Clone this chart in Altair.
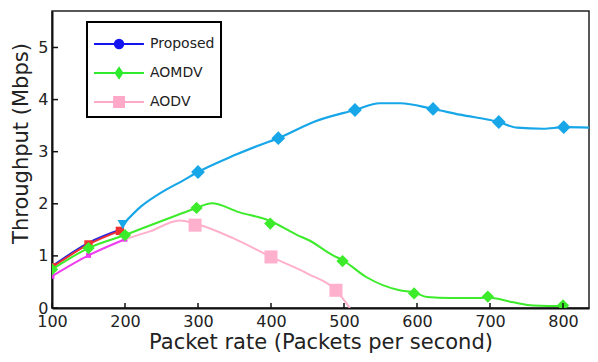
import altair as alt
import pandas as pd

# ---------------- data ----------------
series_names = ["Proposed", "AOMDV", "AODV"]
legend_colors = ["#1414F0", "#2EEB2E", "#FFA8C8"]

# Proposed (light blue curve)
prop_line_x = [197, 222, 250, 280, 300, 348, 385, 410, 460, 515, 549, 577, 622, 659, 712, 737, 773, 801, 845]
prop_line_y = [1.60, 1.95, 2.22, 2.45, 2.61, 2.92, 3.13, 3.26, 3.58, 3.80, 3.93, 3.93, 3.82, 3.71, 3.57, 3.46, 3.44, 3.47, 3.46]
prop_mark_x = [300, 410, 515, 622, 712, 801]
prop_mark_y = [2.61, 3.26, 3.80, 3.82, 3.57, 3.47]

# AOMDV (green)
aomdv_line_x = [100, 150, 200, 224, 271, 298, 319, 356, 399, 436, 452, 485, 498, 531, 576, 596, 614, 645, 686, 697, 732, 759, 800, 805]
aomdv_line_y = [0.74, 1.15, 1.40, 1.53, 1.78, 1.92, 2.01, 1.84, 1.67, 1.40, 1.30, 1.01, 0.92, 0.59, 0.34, 0.30, 0.21, 0.19, 0.19, 0.20, 0.11, 0.05, 0.04, 0.04]
aomdv_mark_x = [100, 150, 200, 298, 399, 498, 596, 697, 800]
aomdv_mark_y = [0.74, 1.15, 1.40, 1.92, 1.62, 0.90, 0.28, 0.22, 0.05]

# AODV (pink)
aodv_line_x = [200, 234, 275, 296, 348, 400, 450, 489, 508]
aodv_line_y = [1.32, 1.47, 1.68, 1.62, 1.34, 0.98, 0.66, 0.34, 0.0]
aodv_mark_x = [296, 400, 489]
aodv_mark_y = [1.59, 0.98, 0.34]

# early overlapping traces (red, dark blue, magenta)
red_x = [100, 150, 193]
red_y = [0.78, 1.22, 1.48]
blue_x = [100, 150, 197]
blue_y = [0.80, 1.25, 1.52]
mag_x = [100, 150, 200]
mag_y = [0.61, 1.01, 1.32]

x_ticks = [100, 200, 300, 400, 500, 600, 700, 800]
y_ticks = [0, 1, 2, 3, 4, 5]

W, H = 537, 297
FONT = "DejaVu Sans"

xs = alt.Scale(domain=[100, 100 + W / 0.73], nice=False, zero=False)
ys = alt.Scale(domain=[0, 5.7], nice=False, zero=False)


def df(x, y):
    return pd.DataFrame({"x": x, "y": y})


def line(x, y, color, width=2, interp="monotone"):
    return alt.Chart(df(x, y)).mark_line(
        color=color, strokeWidth=width, interpolate=interp, clip=True
    ).encode(
        x=alt.X("x:Q", scale=xs, axis=alt.Axis(
            values=x_ticks, ticks=False, grid=False, domainColor="#111", domainWidth=2,
            labelFontSize=16, labelColor="#222", labelPadding=5, labelFont=FONT,
            labelFlush=False, labelOverlap=False,
            title="Packet rate (Packets per second)", titleFontSize=21, titleFont=FONT,
            titleFontWeight="normal", titleColor="#222", titlePadding=2)),
        y=alt.Y("y:Q", scale=ys, axis=alt.Axis(
            values=y_ticks, ticks=False, grid=False, domainColor="#111", domainWidth=2,
            labelFontSize=16, labelColor="#222", labelPadding=4, labelFont=FONT,
            labelFlush=False, labelOverlap=False,
            title="Throughput (Mbps)", titleFontSize=21, titleFont=FONT,
            titleFontWeight="normal", titleColor="#222", titleX=-31, titleY=132,
            titleAlign="center", titleBaseline="middle")),
    )


def marks(x, y, color, shape, size):
    return alt.Chart(df(x, y)).mark_point(
        filled=True, color=color, shape=shape, size=size, opacity=1, clip=True
    ).encode(x=alt.X("x:Q", scale=xs), y=alt.Y("y:Q", scale=ys))


LBLUE = "#17A6E8"
GREEN = "#3CEB2A"
PINK = "#FFB0CC"

layers = [
    line(mag_x, mag_y, "#F03CF0", 2),
    marks(mag_x, mag_y, "#F03CF0", "square", 25),
    line(aodv_line_x, aodv_line_y, PINK, 2),
    marks(aodv_mark_x, aodv_mark_y, PINK, "square", 170),
    line(blue_x, blue_y, "#2828E0", 2),
    line(red_x, red_y, "#F03030", 2),
    marks(red_x, red_y, "#F03030", "square", 70),
    line(aomdv_line_x, aomdv_line_y, GREEN, 2),
    marks(aomdv_mark_x, aomdv_mark_y, GREEN, "diamond", 150),
    line(prop_line_x, prop_line_y, LBLUE, 2.2),
    marks(prop_mark_x, prop_mark_y, LBLUE, "diamond", 190),
    marks([197], [1.60], LBLUE, "triangle-down", 110),
]

# inward tick marks
xt = alt.Chart(pd.DataFrame({"x": x_ticks})).mark_rule(color="#111", strokeWidth=1.5).encode(
    x=alt.X("x:Q", scale=xs), y=alt.value(H), y2=alt.value(H - 5))
yt = alt.Chart(pd.DataFrame({"y": y_ticks})).mark_rule(color="#111", strokeWidth=1.5).encode(
    y=alt.Y("y:Q", scale=ys), x=alt.value(0), x2=alt.value(6))

# legend: symbols are a line segment with the marker on it (unit = 15 px)
leg_paths = [
    "M-1,0L2.33,0M0.39,0A0.28,0.28,0,1,1,0.95,0A0.28,0.28,0,1,1,0.39,0Z",
    "M-1,0L2.33,0M0.67,-0.33L0.89,0L0.67,0.33L0.45,0Z",
    "M-1,0L2.33,0M0.34,-0.33L1,-0.33L1,0.33L0.34,0.33Z",
]
leg_scale_c = alt.Scale(domain=series_names, range=legend_colors)
leg_scale_s = alt.Scale(domain=series_names, range=leg_paths)
legend = alt.Legend(
    title=None, orient="none", legendX=35, legendY=11, symbolSize=900,
    symbolStrokeWidth=2, labelFontSize=14, labelFont=FONT, labelColor="#222",
    strokeColor="black", padding=6, fillColor="white", labelOffset=25, rowPadding=4,
)
leg = alt.Chart(pd.DataFrame({"s": series_names})).mark_point(
    filled=False, size=900, clip=True, opacity=1
).encode(
    x=alt.value(-200), y=alt.value(-200),
    stroke=alt.Stroke("s:N", scale=leg_scale_c, legend=legend),
    fill=alt.Fill("s:N", scale=leg_scale_c, legend=legend),
    shape=alt.Shape("s:N", scale=leg_scale_s, legend=legend),
)

chart = alt.layer(*layers, xt, yt, leg).properties(
    width=W, height=H,
    autosize=alt.AutoSizeParams(type="none"),
    padding={"left": 44, "top": 3, "right": 1, "bottom": 46},
).configure_view(stroke="#222", strokeWidth=1.5).configure_legend(strokeWidth=2)

chart.save("out.html", embed_options={"renderer": "svg", "actions": False})
